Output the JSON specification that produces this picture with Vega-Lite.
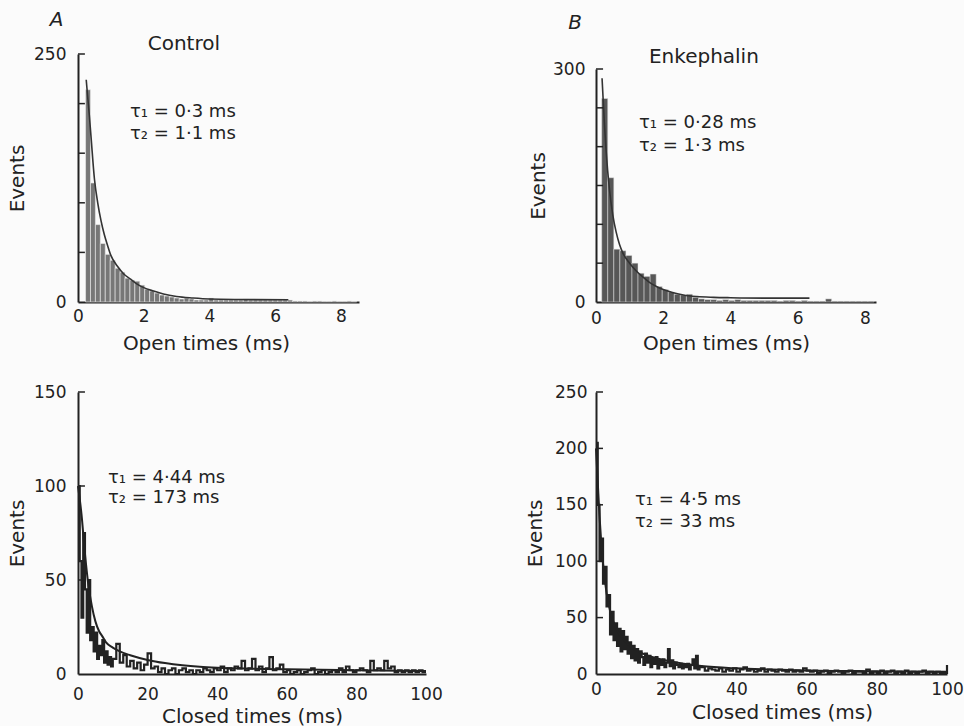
{
  "$schema": "https://vega.github.io/schema/vega-lite/v6.json",
  "background": "#fbfbfb",
  "padding": {"left": 7, "top": 10, "right": 2, "bottom": 0},
  "columns": 2,
  "bounds": "flush",
  "align": "each",
  "spacing": {"row": 90, "column": 170},
  "config": {
    "view": {"stroke": null},
    "font": "DejaVu Sans",
    "axis": {"grid": false, "ticks": false, "domainColor": "#222", "domainWidth": 2, "labelColor": "#222", "labelFont": "DejaVu Sans", "labelFontSize": 17, "titleColor": "#222", "titleFont": "DejaVu Sans", "titleFontSize": 20, "titleFontWeight": "normal", "labelFlush": false},
    "axisY": {"labelPadding": 12, "titlePadding": 6},
    "text": {"font": "DejaVu Sans", "fontSize": 18, "color": "#222"},
    "rule": {"stroke": "#222", "strokeWidth": 1.5}
  },
  "concat": [
    {
      "width": 281, "height": 248,
      "layer": [
        {
          "data": {"values": [
            {"t":0.23,"t2":0.38,"n":214},{"t":0.38,"t2":0.53,"n":120},{"t":0.53,"t2":0.68,"n":78},{"t":0.68,"t2":0.83,"n":59},{"t":0.83,"t2":0.98,"n":48},{"t":0.98,"t2":1.13,"n":42},{"t":1.13,"t2":1.28,"n":34},{"t":1.28,"t2":1.43,"n":30},{"t":1.43,"t2":1.58,"n":24},{"t":1.58,"t2":1.73,"n":22},{"t":1.73,"t2":1.88,"n":21},{"t":1.88,"t2":2.03,"n":17},{"t":2.03,"t2":2.18,"n":13},{"t":2.18,"t2":2.33,"n":11},{"t":2.33,"t2":2.48,"n":9},{"t":2.48,"t2":2.63,"n":7},{"t":2.63,"t2":2.78,"n":6},{"t":2.78,"t2":2.93,"n":5},{"t":2.93,"t2":3.08,"n":4},{"t":3.08,"t2":3.23,"n":3},{"t":3.23,"t2":3.38,"n":4},{"t":3.38,"t2":3.53,"n":3},{"t":3.53,"t2":3.68,"n":2},{"t":3.68,"t2":3.83,"n":2},{"t":3.83,"t2":3.98,"n":2},{"t":3.98,"t2":4.13,"n":4},{"t":4.13,"t2":4.28,"n":2},{"t":4.28,"t2":4.43,"n":2},{"t":4.43,"t2":4.58,"n":2},{"t":4.58,"t2":4.73,"n":2},{"t":4.73,"t2":4.88,"n":2},{"t":4.88,"t2":5.03,"n":2},{"t":5.03,"t2":5.18,"n":3},{"t":5.18,"t2":5.33,"n":2},{"t":5.33,"t2":5.48,"n":2},{"t":5.48,"t2":5.63,"n":2},{"t":5.63,"t2":5.78,"n":2},{"t":5.78,"t2":5.93,"n":2},{"t":5.93,"t2":6.08,"n":2},{"t":6.08,"t2":6.23,"n":2},{"t":6.23,"t2":6.38,"n":2},{"t":6.38,"t2":6.53,"n":2},{"t":6.53,"t2":6.68,"n":1},{"t":6.68,"t2":6.83,"n":1},{"t":6.83,"t2":6.98,"n":1},{"t":6.98,"t2":7.13,"n":0.5},{"t":7.13,"t2":7.28,"n":1},{"t":7.28,"t2":7.43,"n":1},{"t":7.43,"t2":7.58,"n":0.5},{"t":7.58,"t2":7.73,"n":0.5},{"t":7.73,"t2":7.88,"n":1},{"t":7.88,"t2":8.03,"n":0.5},{"t":8.03,"t2":8.18,"n":0.5},{"t":8.18,"t2":8.33,"n":1},{"t":8.33,"t2":8.48,"n":0.5}
          ]},
          "mark": {"type": "rect", "fill": "#777", "stroke": "#ececec", "strokeWidth": 0.6},
          "encoding": {
            "x": {"field": "t", "type": "quantitative", "scale": {"domain": [0, 8.55], "nice": false}, "axis": {"values": [0, 2, 4, 6, 8], "title": "Open times (ms)", "labelPadding": 6, "titlePadding": 9, "titleX": 128}},
            "x2": {"field": "t2"},
            "y": {"field": "n", "type": "quantitative", "scale": {"domain": [0, 250], "nice": false}, "axis": {"values": [0, 250], "title": "Events"}},
            "y2": {"datum": 0}
          }
        },
        {
          "data": {"values": [
            {"t":0.25,"n":224},{"t":0.3,"n":205},{"t":0.35,"n":186},{"t":0.4,"n":165},{"t":0.5,"n":124},{"t":0.6,"n":100},{"t":0.7,"n":82},{"t":0.8,"n":68},{"t":0.9,"n":57},{"t":1.0,"n":47},{"t":1.2,"n":36},{"t":1.4,"n":28},{"t":1.6,"n":23},{"t":1.8,"n":18},{"t":2.0,"n":14.5},{"t":2.3,"n":11},{"t":2.6,"n":8},{"t":3.0,"n":5.5},{"t":3.5,"n":4},{"t":4.0,"n":3},{"t":5.0,"n":2.5},{"t":6.4,"n":2.2}
          ]},
          "mark": {"type": "line", "stroke": "#333", "strokeWidth": 1.6, "interpolate": "monotone"},
          "encoding": {"x": {"field": "t", "type": "quantitative"}, "y": {"field": "n", "type": "quantitative"}}
        },
        {
          "data": {"values": [{"v": 50}, {"v": 100}, {"v": 150}, {"v": 200}, {"v": 250}]},
          "mark": {"type": "rule"},
          "encoding": {"x": {"datum": 0}, "x2": {"datum": 0.21}, "y": {"field": "v", "type": "quantitative"}}
        },
        {"data": {"values": [{}]}, "mark": {"type": "text", "text": "A", "fontStyle": "italic", "fontSize": 20, "align": "center", "baseline": "middle"}, "encoding": {"x": {"datum": -0.65}, "y": {"datum": 284}}},
        {"data": {"values": [{}]}, "mark": {"type": "text", "text": "Control", "fontSize": 20, "align": "center", "baseline": "middle"}, "encoding": {"x": {"datum": 3.22}, "y": {"datum": 260}}},
        {"data": {"values": [{}]}, "mark": {"type": "text", "text": "τ₁ = 0·3 ms", "align": "left", "baseline": "middle"}, "encoding": {"x": {"datum": 1.58}, "y": {"datum": 192}}},
        {"data": {"values": [{}]}, "mark": {"type": "text", "text": "τ₂ = 1·1 ms", "align": "left", "baseline": "middle"}, "encoding": {"x": {"datum": 1.58}, "y": {"datum": 169}}}
      ]
    },
    {
      "width": 280, "height": 248,
      "layer": [
        {
          "data": {"values": [
            {"t":0.17,"t2":0.35,"n":262},{"t":0.35,"t2":0.53,"n":160},{"t":0.53,"t2":0.71,"n":68},{"t":0.71,"t2":0.89,"n":66},{"t":0.89,"t2":1.07,"n":60},{"t":1.07,"t2":1.25,"n":50},{"t":1.25,"t2":1.43,"n":37},{"t":1.43,"t2":1.61,"n":33},{"t":1.61,"t2":1.79,"n":36},{"t":1.79,"t2":1.97,"n":20},{"t":1.97,"t2":2.15,"n":16},{"t":2.15,"t2":2.33,"n":13},{"t":2.33,"t2":2.51,"n":10},{"t":2.51,"t2":2.69,"n":9},{"t":2.69,"t2":2.87,"n":10},{"t":2.87,"t2":3.05,"n":6},{"t":3.05,"t2":3.23,"n":4},{"t":3.23,"t2":3.41,"n":3},{"t":3.41,"t2":3.59,"n":3},{"t":3.59,"t2":3.77,"n":2},{"t":3.77,"t2":3.95,"n":3},{"t":3.95,"t2":4.13,"n":2},{"t":4.13,"t2":4.31,"n":3},{"t":4.31,"t2":4.49,"n":2},{"t":4.49,"t2":4.67,"n":2},{"t":4.67,"t2":4.85,"n":2},{"t":4.85,"t2":5.03,"n":2},{"t":5.03,"t2":5.21,"n":2},{"t":5.21,"t2":5.39,"n":2},{"t":5.39,"t2":5.57,"n":1},{"t":5.57,"t2":5.75,"n":2},{"t":5.75,"t2":5.93,"n":2},{"t":5.93,"t2":6.11,"n":1},{"t":6.11,"t2":6.29,"n":2},{"t":6.29,"t2":6.47,"n":1},{"t":6.47,"t2":6.65,"n":1},{"t":6.65,"t2":6.83,"n":1},{"t":6.83,"t2":7.01,"n":4},{"t":7.01,"t2":7.19,"n":1},{"t":7.19,"t2":7.37,"n":1},{"t":7.37,"t2":7.55,"n":1},{"t":7.55,"t2":7.73,"n":1},{"t":7.73,"t2":7.91,"n":1},{"t":7.91,"t2":8.09,"n":1},{"t":8.09,"t2":8.27,"n":1}
          ]},
          "mark": {"type": "rect", "fill": "#575757", "stroke": "#e4e4e4", "strokeWidth": 0.5},
          "encoding": {
            "x": {"field": "t", "type": "quantitative", "scale": {"domain": [0, 8.33], "nice": false}, "axis": {"values": [0, 2, 4, 6, 8], "title": "Open times (ms)", "labelPadding": 8, "titlePadding": 7, "titleX": 130}},
            "x2": {"field": "t2"},
            "y": {"field": "n", "type": "quantitative", "scale": {"domain": [0, 300], "range": [248, 15], "nice": false}, "axis": {"values": [0, 300], "title": "Events", "labelPadding": 11, "titlePadding": 4}},
            "y2": {"datum": 0}
          }
        },
        {
          "data": {"values": [
            {"t":0.18,"n":288},{"t":0.25,"n":230},{"t":0.3,"n":195},{"t":0.4,"n":145},{"t":0.5,"n":112},{"t":0.6,"n":90},{"t":0.7,"n":74},{"t":0.8,"n":63},{"t":1.0,"n":50},{"t":1.2,"n":40},{"t":1.4,"n":32},{"t":1.6,"n":25},{"t":1.8,"n":20},{"t":2.0,"n":16},{"t":2.3,"n":12},{"t":2.6,"n":9},{"t":3.0,"n":7},{"t":3.5,"n":6},{"t":4.0,"n":5.5},{"t":5.0,"n":5},{"t":6.35,"n":5}
          ]},
          "mark": {"type": "line", "stroke": "#333", "strokeWidth": 1.6, "interpolate": "monotone"},
          "encoding": {"x": {"field": "t", "type": "quantitative"}, "y": {"field": "n", "type": "quantitative"}}
        },
        {
          "data": {"values": [{"v": 50}, {"v": 100}, {"v": 150}, {"v": 200}, {"v": 250}, {"v": 300}]},
          "mark": {"type": "rule"},
          "encoding": {"x": {"datum": 0}, "x2": {"datum": 0.21}, "y": {"field": "v", "type": "quantitative"}}
        },
        {"data": {"values": [{}]}, "mark": {"type": "text", "text": "B", "fontStyle": "italic", "fontSize": 20, "align": "center", "baseline": "middle"}, "encoding": {"x": {"datum": -0.625}, "y": {"datum": 359.5}}},
        {"data": {"values": [{}]}, "mark": {"type": "text", "text": "Enkephalin", "fontSize": 20, "align": "center", "baseline": "middle"}, "encoding": {"x": {"datum": 3.21}, "y": {"datum": 316}}},
        {"data": {"values": [{}]}, "mark": {"type": "text", "text": "τ₁ = 0·28 ms", "align": "left", "baseline": "middle"}, "encoding": {"x": {"datum": 1.28}, "y": {"datum": 230}}},
        {"data": {"values": [{}]}, "mark": {"type": "text", "text": "τ₂ = 1·3 ms", "align": "left", "baseline": "middle"}, "encoding": {"x": {"datum": 1.28}, "y": {"datum": 201.5}}}
      ]
    },
    {
      "width": 348, "height": 282,
      "layer": [
        {
          "data": {"values": [
            {"t":0,"n":100},{"t":0.5,"n":60},{"t":1,"n":30},{"t":1.5,"n":75},{"t":2,"n":45},{"t":2.5,"n":22},{"t":3,"n":50},{"t":3.5,"n":18},{"t":4,"n":25},{"t":4.5,"n":12},{"t":5,"n":22},{"t":5.5,"n":8},{"t":6,"n":15},{"t":6.5,"n":10},{"t":7,"n":18},{"t":7.5,"n":6},{"t":8,"n":12},{"t":8.5,"n":5},{"t":9,"n":9},{"t":9.5,"n":4},
            {"t":10,"n":8},{"t":11,"n":16},{"t":12,"n":6},{"t":13,"n":10},{"t":14,"n":4},{"t":15,"n":7},{"t":16,"n":3},{"t":17,"n":6},{"t":18,"n":2},{"t":19,"n":5},{"t":20,"n":11},{"t":21,"n":3},{"t":22,"n":4},{"t":23,"n":1},{"t":24,"n":3},{"t":25,"n":0},{"t":26,"n":2},{"t":27,"n":3},{"t":28,"n":0},{"t":29,"n":2},{"t":30,"n":3},{"t":31,"n":1},{"t":32,"n":2},{"t":33,"n":0},{"t":34,"n":2},{"t":35,"n":1},{"t":36,"n":3},{"t":37,"n":2},{"t":38,"n":1},{"t":39,"n":3},{"t":40,"n":2},{"t":41,"n":4},{"t":42,"n":1},{"t":43,"n":3},{"t":44,"n":2},{"t":45,"n":4},{"t":46,"n":3},{"t":47,"n":7},{"t":48,"n":2},{"t":49,"n":3},{"t":50,"n":8},{"t":51,"n":2},{"t":52,"n":4},{"t":53,"n":1},{"t":54,"n":3},{"t":55,"n":9},{"t":56,"n":2},{"t":57,"n":3},{"t":58,"n":5},{"t":59,"n":1},{"t":60,"n":2},{"t":61,"n":0},{"t":62,"n":1},{"t":63,"n":2},{"t":64,"n":0},{"t":65,"n":1},{"t":66,"n":2},{"t":67,"n":3},{"t":68,"n":0},{"t":69,"n":1},{"t":70,"n":2},{"t":71,"n":0},{"t":72,"n":1},{"t":73,"n":2},{"t":74,"n":1},{"t":75,"n":3},{"t":76,"n":1},{"t":77,"n":4},{"t":78,"n":2},{"t":79,"n":1},{"t":80,"n":2},{"t":81,"n":3},{"t":82,"n":2},{"t":83,"n":1},{"t":84,"n":7},{"t":85,"n":2},{"t":86,"n":3},{"t":87,"n":2},{"t":88,"n":7},{"t":89,"n":3},{"t":90,"n":4},{"t":91,"n":1},{"t":92,"n":2},{"t":93,"n":1},{"t":94,"n":2},{"t":95,"n":1},{"t":96,"n":2},{"t":97,"n":1},{"t":98,"n":2},{"t":99,"n":1},{"t":100,"n":1}
          ]},
          "mark": {"type": "line", "stroke": "#222", "strokeWidth": 2.2, "interpolate": "step-after"},
          "encoding": {
            "x": {"field": "t", "type": "quantitative", "scale": {"domain": [0, 100], "nice": false}, "axis": {"values": [0, 20, 40, 60, 80, 100], "title": "Closed times (ms)", "labelPadding": 12, "titlePadding": 4}},
            "y": {"field": "n", "type": "quantitative", "scale": {"domain": [0, 150], "nice": false}, "axis": {"values": [0, 50, 100, 150], "title": "Events"}}
          }
        },
        {
          "data": {"values": [
            {"t":0,"n":100},{"t":1,"n":85},{"t":2,"n":64},{"t":3,"n":47},{"t":4,"n":36},{"t":5,"n":28},{"t":6,"n":23},{"t":7,"n":20},{"t":8,"n":17},{"t":10,"n":14},{"t":12,"n":12},{"t":15,"n":10},{"t":20,"n":7.5},{"t":25,"n":5.8},{"t":30,"n":4.6},{"t":35,"n":3.8},{"t":40,"n":3.3},{"t":50,"n":2.8},{"t":60,"n":2.5},{"t":80,"n":2},{"t":100,"n":1.6}
          ]},
          "mark": {"type": "line", "stroke": "#222", "strokeWidth": 2, "interpolate": "monotone"},
          "encoding": {"x": {"field": "t", "type": "quantitative"}, "y": {"field": "n", "type": "quantitative"}}
        },
        {
          "data": {"values": [{"v": 50}, {"v": 100}, {"v": 150}]},
          "mark": {"type": "rule"},
          "encoding": {"x": {"datum": 0}, "x2": {"datum": 2}, "y": {"field": "v", "type": "quantitative"}}
        },
        {"data": {"values": [{}]}, "mark": {"type": "text", "text": "τ₁ = 4·44 ms", "align": "left", "baseline": "middle"}, "encoding": {"x": {"datum": 8.6}, "y": {"datum": 104.4}}},
        {"data": {"values": [{}]}, "mark": {"type": "text", "text": "τ₂ = 173 ms", "align": "left", "baseline": "middle"}, "encoding": {"x": {"datum": 8.6}, "y": {"datum": 93.5}}}
      ]
    },
    {
      "width": 351, "height": 282,
      "layer": [
        {
          "data": {"values": [
            {"t":0,"n":205},{"t":0.5,"n":150},{"t":1,"n":100},{"t":1.5,"n":120},{"t":2,"n":80},{"t":2.5,"n":95},{"t":3,"n":60},{"t":3.5,"n":70},{"t":4,"n":35},{"t":4.5,"n":55},{"t":5,"n":30},{"t":5.5,"n":45},{"t":6,"n":25},{"t":6.5,"n":40},{"t":7,"n":20},{"t":7.5,"n":38},{"t":8,"n":22},{"t":8.5,"n":33},{"t":9,"n":18},{"t":9.5,"n":28},{"t":10,"n":14},{"t":10.5,"n":25},{"t":11,"n":12},{"t":11.5,"n":22},{"t":12,"n":10},{"t":12.5,"n":20},{"t":13,"n":15},{"t":13.5,"n":8},{"t":14,"n":18},{"t":14.5,"n":10},{"t":15,"n":16},{"t":15.5,"n":6},{"t":16,"n":14},{"t":16.5,"n":9},{"t":17,"n":15},{"t":17.5,"n":5},{"t":18,"n":12},{"t":18.5,"n":8},{"t":19,"n":13},{"t":19.5,"n":6},{"t":20,"n":10},{"t":20.5,"n":22},{"t":21,"n":7},{"t":21.5,"n":12},{"t":22,"n":5},{"t":22.5,"n":10},{"t":23,"n":8},{"t":23.5,"n":6},{"t":24,"n":9},{"t":24.5,"n":5},{"t":25,"n":8},{"t":25.5,"n":6},{"t":26,"n":9},{"t":26.5,"n":4},{"t":27,"n":8},{"t":27.5,"n":13},{"t":28,"n":5},{"t":28.5,"n":16},{"t":29,"n":4},{"t":29.5,"n":7},
            {"t":30,"n":6},{"t":31,"n":3},{"t":32,"n":5},{"t":33,"n":4},{"t":34,"n":3},{"t":35,"n":5},{"t":36,"n":2},{"t":37,"n":4},{"t":38,"n":3},{"t":39,"n":5},{"t":40,"n":2},{"t":41,"n":4},{"t":42,"n":6},{"t":43,"n":3},{"t":44,"n":4},{"t":45,"n":2},{"t":46,"n":3},{"t":47,"n":5},{"t":48,"n":2},{"t":49,"n":4},{"t":50,"n":3},{"t":51,"n":2},{"t":52,"n":4},{"t":53,"n":3},{"t":54,"n":2},{"t":55,"n":4},{"t":56,"n":2},{"t":57,"n":3},{"t":58,"n":2},{"t":59,"n":5},{"t":60,"n":3},{"t":61,"n":2},{"t":62,"n":3},{"t":63,"n":1},{"t":64,"n":2},{"t":65,"n":3},{"t":66,"n":1},{"t":67,"n":2},{"t":68,"n":3},{"t":69,"n":2},{"t":70,"n":1},{"t":71,"n":2},{"t":72,"n":3},{"t":73,"n":1},{"t":74,"n":2},{"t":75,"n":2},{"t":76,"n":1},{"t":77,"n":4},{"t":78,"n":1},{"t":79,"n":2},{"t":80,"n":1},{"t":81,"n":3},{"t":82,"n":1},{"t":83,"n":2},{"t":84,"n":3},{"t":85,"n":1},{"t":86,"n":2},{"t":87,"n":1},{"t":88,"n":3},{"t":89,"n":1},{"t":90,"n":2},{"t":91,"n":1},{"t":92,"n":2},{"t":93,"n":3},{"t":94,"n":1},{"t":95,"n":2},{"t":96,"n":1},{"t":97,"n":2},{"t":98,"n":1},{"t":99,"n":1},{"t":100,"n":8}
          ]},
          "mark": {"type": "line", "stroke": "#222", "strokeWidth": 2.2, "interpolate": "step-after"},
          "encoding": {
            "x": {"field": "t", "type": "quantitative", "scale": {"domain": [0, 100], "nice": false}, "axis": {"values": [0, 20, 40, 60, 80, 100], "title": "Closed times (ms)", "labelPadding": 7, "titlePadding": 5, "titleX": 186}},
            "y": {"field": "n", "type": "quantitative", "scale": {"domain": [0, 250], "nice": false}, "axis": {"values": [0, 50, 100, 150, 200, 250], "title": "Events", "labelPadding": 9, "titlePadding": 9}}
          }
        },
        {
          "data": {"values": [
            {"t":0,"n":200},{"t":0.5,"n":170},{"t":1,"n":140},{"t":2,"n":98},{"t":3,"n":72},{"t":4,"n":56},{"t":5,"n":46},{"t":6,"n":39},{"t":8,"n":30},{"t":10,"n":24},{"t":12,"n":20},{"t":15,"n":16},{"t":20,"n":12},{"t":25,"n":9},{"t":30,"n":7},{"t":40,"n":5},{"t":50,"n":4},{"t":60,"n":3.2},{"t":80,"n":2.5},{"t":100,"n":2}
          ]},
          "mark": {"type": "line", "stroke": "#222", "strokeWidth": 2, "interpolate": "monotone"},
          "encoding": {"x": {"field": "t", "type": "quantitative"}, "y": {"field": "n", "type": "quantitative"}}
        },
        {
          "data": {"values": [{"v": 50}, {"v": 100}, {"v": 150}, {"v": 200}, {"v": 250}]},
          "mark": {"type": "rule"},
          "encoding": {"x": {"datum": 0}, "x2": {"datum": 2}, "y": {"field": "v", "type": "quantitative"}}
        },
        {"data": {"values": [{}]}, "mark": {"type": "text", "text": "τ₁ = 4·5 ms", "align": "left", "baseline": "middle"}, "encoding": {"x": {"datum": 11.1}, "y": {"datum": 154}}},
        {"data": {"values": [{}]}, "mark": {"type": "text", "text": "τ₂ = 33 ms", "align": "left", "baseline": "middle"}, "encoding": {"x": {"datum": 11.1}, "y": {"datum": 134.6}}}
      ]
    }
  ]
}
